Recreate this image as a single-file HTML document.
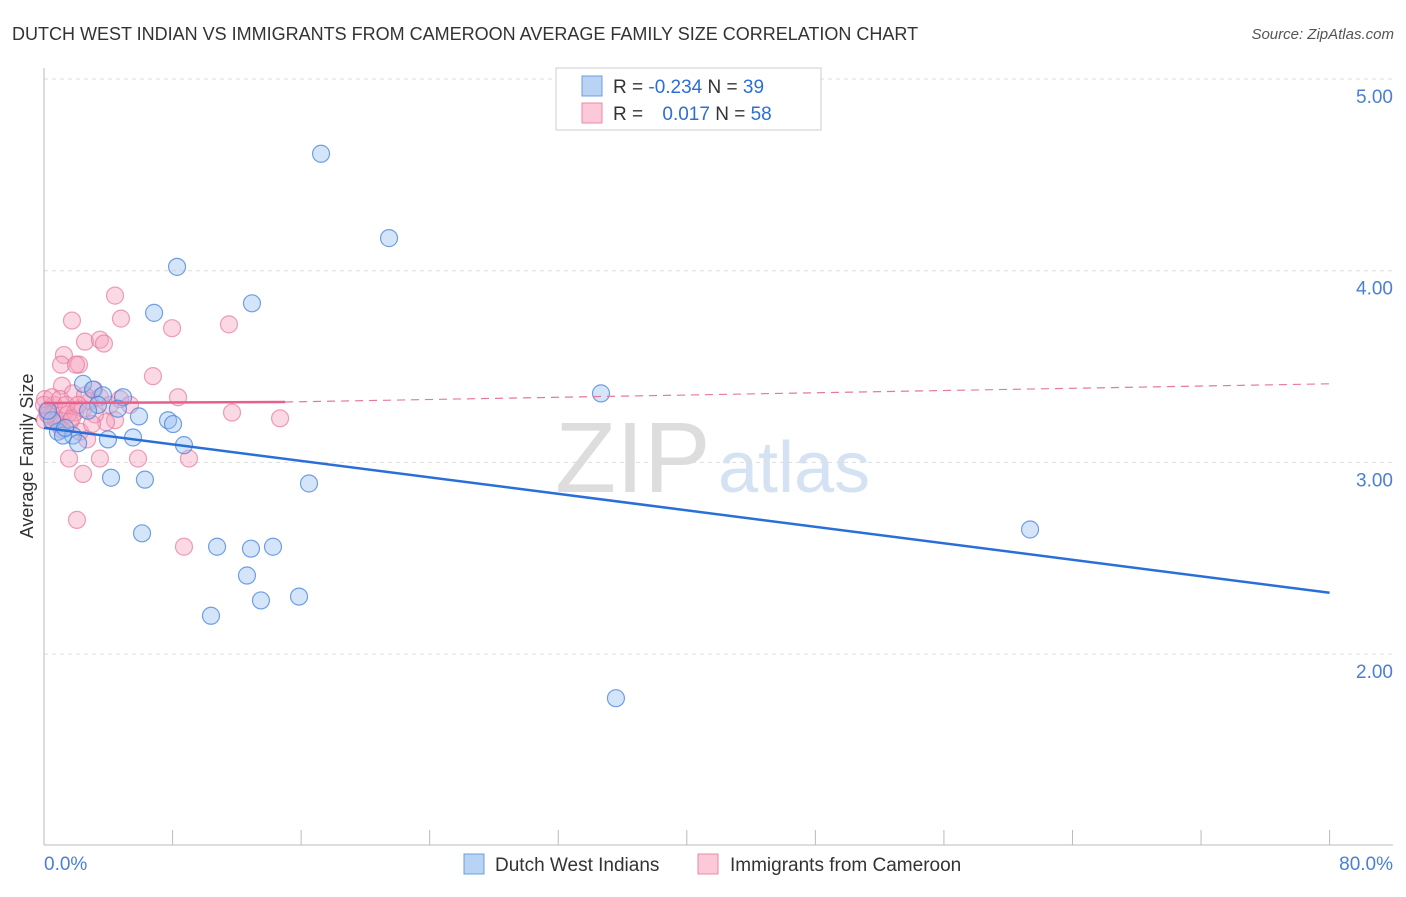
<!DOCTYPE html>
<html><head><meta charset="utf-8"><style>
body{margin:0;background:#fff;font-family:"Liberation Sans",sans-serif}
svg text{font-family:"Liberation Sans",sans-serif}
</style></head><body>
<svg id="c" width="1406" height="892">
<text x="12" y="40" font-size="18" fill="#333">DUTCH WEST INDIAN VS IMMIGRANTS FROM CAMEROON AVERAGE FAMILY SIZE CORRELATION CHART</text>
<text x="1394" y="39" font-size="15" fill="#555" text-anchor="end" font-style="italic">Source: ZipAtlas.com</text>
<text x="33" y="456" font-size="18" fill="#333" text-anchor="middle" transform="rotate(-90 33 456)">Average Family Size</text>
<text x="555" y="492" font-size="100" fill="#ddd" font-family="Liberation Serif">ZIP</text>
<text x="718" y="492" font-size="72" fill="#d5e2f3">atlas</text>
<g id="grid"></g><g id="axes"></g><g id="pts"></g><g id="trend"></g>
<g>
<rect x="556" y="68" width="265" height="62" fill="#fff" stroke="#ccc"/>
<rect x="582" y="76" width="20" height="20" fill="#b9d3f4" stroke="#6c9de0"/>
<rect x="582" y="103" width="20" height="20" fill="#fbc9d8" stroke="#e88aa8"/>
<text x="613" y="93" font-size="19" fill="#333">R = <tspan fill="#2b6fd6">-0.234</tspan>   N = <tspan fill="#2b6fd6">39</tspan></text>
<text x="613" y="120" font-size="19" fill="#333">R = <tspan fill="#2b6fd6" dx="14">0.017</tspan>   N = <tspan fill="#2b6fd6">58</tspan></text>
</g>
<g>
<rect x="464" y="854" width="20" height="20" fill="#b9d3f4" stroke="#6c9de0"/>
<text x="495" y="871" font-size="19" fill="#333">Dutch West Indians</text>
<rect x="698" y="854" width="20" height="20" fill="#fbc9d8" stroke="#e88aa8"/>
<text x="730" y="871" font-size="19" fill="#333">Immigrants from Cameroon</text>
</g>
</svg>
<script>
const yTicks=[2,3,4,5];
const yTickLabels=["2.00","3.00","4.00","5.00"];
const xTickLabels=["0.0%","80.0%"];
const blueX=[17.24,21.47,8.28,12.94,6.85,34.66,2.43,4.92,3.05,3.67,4.60,3.36,2.74,5.91,7.72,8.03,0.87,1.80,5.54,3.98,2.12,1.18,8.71,4.17,6.28,16.49,61.36,6.10,10.77,12.88,14.25,12.63,13.50,15.87,10.39,35.59,0.50,0.25,1.31];
const blueY=[4.61,4.17,4.02,3.83,3.78,3.36,3.41,3.34,3.38,3.35,3.28,3.30,3.27,3.24,3.22,3.20,3.16,3.14,3.13,3.12,3.10,3.14,3.09,2.92,2.91,2.89,2.65,2.63,2.56,2.55,2.56,2.41,2.28,2.30,2.20,1.77,3.22,3.27,3.18];
const pinkX=[4.42,11.51,1.74,4.79,7.97,2.55,3.48,3.73,1.24,1.06,2.18,1.99,6.78,1.12,8.34,3.11,1.80,11.70,14.69,1.31,0.62,0.19,0.37,0.75,0.87,1.49,1.93,2.43,2.86,3.48,4.11,4.73,4.42,3.86,1.62,2.24,2.68,3.48,1.56,2.43,5.85,9.02,2.05,8.71,0.06,0.06,0.25,0,0.50,1.00,1.37,1.74,3.17,5.35,2.55,2.99,1.12,2.12];
const pinkY=[3.87,3.72,3.74,3.75,3.70,3.63,3.64,3.62,3.56,3.51,3.51,3.51,3.45,3.40,3.34,3.38,3.36,3.26,3.23,3.27,3.30,3.27,3.24,3.22,3.20,3.25,3.26,3.28,3.32,3.34,3.30,3.33,3.22,3.21,3.21,3.16,3.12,3.02,3.02,2.94,3.02,3.02,2.70,2.56,3.33,3.22,3.25,3.30,3.34,3.33,3.30,3.23,3.25,3.30,3.35,3.20,3.17,3.30];
const blueTrendX=[0,80];
const blueTrendY=[3.18,2.32];
const pinkTrendX=[0,15,80];
const pinkTrendY=[3.31,3.315,3.41];
const NS="http://www.w3.org/2000/svg";
const sx=v=>44+v*16.07;
const sy=v=>79+(5-v)*191.7;
function mk(tag,attrs,parent){const e=document.createElementNS(NS,tag);for(const k in attrs)e.setAttribute(k,attrs[k]);document.getElementById(parent).appendChild(e);return e;}
yTicks.forEach((t,i)=>{
 const l=mk('line',{x1:44,x2:1393,y1:sy(t),y2:sy(t),stroke:'#ddd','stroke-dasharray':'4,4'},'grid');
 
 
 const tx=mk('text',{x:1393,y:sy(t)+24,'font-size':19,fill:'#4a7fd6','text-anchor':'end'},'grid');
 tx.textContent=yTickLabels[i];
 
 
});
let a=mk('line',{x1:44,x2:44,y1:68,y2:845,stroke:'#bbb'},'axes');


a=mk('line',{x1:44,x2:1393,y1:845,y2:845,stroke:'#bbb'},'axes');


for(let i=0;i<=10;i++){const t=mk('line',{x1:sx(i*8),x2:sx(i*8),y1:830,y2:845,stroke:'#bbb'},'axes');
 
 }
[[0,'start',44],[1,'end',1393]].forEach(([i,anc,x])=>{const t=mk('text',{x:x,y:870,'font-size':19,fill:'#4a7fd6','text-anchor':anc},'axes');t.textContent=xTickLabels[i];
 
 });
pinkX.forEach((x,i)=>{const c=mk('circle',{cx:sx(x),cy:sy(pinkY[i]),r:8.5,fill:'rgba(246,160,188,0.4)',stroke:'rgba(230,120,160,0.7)','stroke-width':1.2},'pts');
 
 });
blueX.forEach((x,i)=>{const c=mk('circle',{cx:sx(x),cy:sy(blueY[i]),r:8.5,fill:'rgba(150,190,240,0.4)',stroke:'rgba(70,130,220,0.75)','stroke-width':1.2},'pts');
 
 });
let tl=mk('line',{x1:sx(blueTrendX[0]),y1:sy(blueTrendY[0]),x2:sx(blueTrendX[1]),y2:sy(blueTrendY[1]),stroke:'#2a6fd8','stroke-width':2.5},'trend');


tl=mk('line',{x1:sx(pinkTrendX[0]),y1:sy(pinkTrendY[0]),x2:sx(pinkTrendX[1]),y2:sy(pinkTrendY[1]),stroke:'#e8608a','stroke-width':2.5},'trend');


tl=mk('line',{x1:sx(pinkTrendX[1]),y1:sy(pinkTrendY[1]),x2:sx(pinkTrendX[2]),y2:sy(pinkTrendY[2]),stroke:'#e8789a','stroke-width':1.2,'stroke-dasharray':'8,6'},'trend');


</script>
</body></html>
